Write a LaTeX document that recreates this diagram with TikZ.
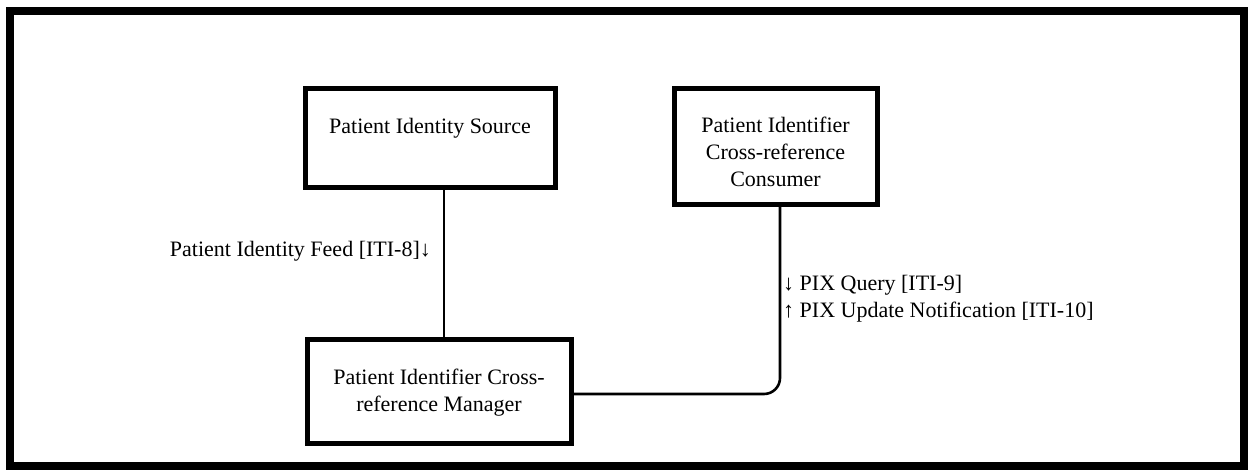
\documentclass[tikz,border=0pt]{standalone}
\usepackage{fontspec}
\setmainfont{Liberation Serif}
\begin{document}
\begin{tikzpicture}[x=1pt,y=-1pt,
  actor/.style={draw,line width=5pt,inner sep=0pt},
  actortext/.style={align=center,font=\fontsize{22}{27}\selectfont,inner sep=0pt},
  link/.style={line width=2.6pt},
  lbl/.style={font=\fontsize{22}{27}\selectfont,inner sep=0pt,align=left}]
\useasboundingbox (0,0) rectangle (1248,469);
\fill[white] (0,0) rectangle (1248,469);
% outer frame
\draw[line width=8pt] (10,11) rectangle (1244,466);
% actors
\node[actor,minimum width=250pt,minimum height=99pt,
  label={[actortext,yshift=9pt]center:Patient Identity Source}] (src) at (430,137.5) {};
\node[actor,minimum width=203pt,minimum height=116pt,
  label={[actortext,yshift=-6pt]center:Patient Identifier\\Cross-reference\\Consumer}] (cons) at (775.5,146) {};
\node[actor,minimum width=264pt,minimum height=104pt,
  label={[actortext,yshift=-2pt]center:Patient Identifier Cross-\\reference Manager}] (mgr) at (439,391) {};
% transactions
\draw[link] (src.south -| 444,0) -- (mgr.north -| 444,0);
\coordinate (bend) at (780,394);
\draw[link,rounded corners=16pt] (mgr.east |- bend) -- (bend) -- (cons.south -| bend);
% transaction labels
\node[lbl,anchor=east] (feed) at (431,251) {Patient Identity Feed [ITI-8]↓};
\node[lbl,anchor=west] (pix) at (783,299) {↓ PIX Query [ITI-9]\\↑ PIX Update Notification [ITI-10]};
\end{tikzpicture}
\end{document}
